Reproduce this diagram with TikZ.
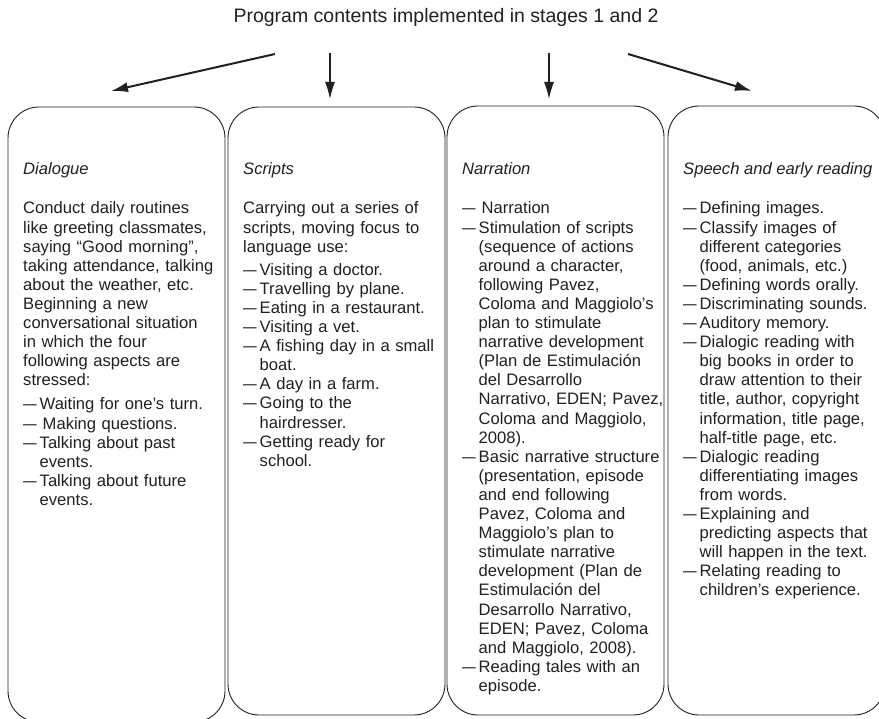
\documentclass[tikz,border=0pt]{standalone}
\usepackage{fontspec}
\setmainfont{Liberation Sans}
\usetikzlibrary{arrows.meta}
\definecolor{ink}{RGB}{35,31,32}
\newcommand{\itm}{\makebox[16.5pt][l]{\scalebox{0.82}[1]{—}}}
\newcommand{\cnt}{\hspace*{16.5pt}}
\begin{document}
\begin{tikzpicture}[x=1pt,y=-1pt,
  box/.style={draw=ink,line width=0.9pt,rounded corners=31pt,inner sep=0pt,minimum width=217pt},
  head/.style={anchor=base west,inner sep=0pt,font=\fontsize{16.6}{19.1}\selectfont\itshape,text=ink},
  body/.style={anchor=base west,inner sep=0pt,text width=215pt,align=left,font=\fontsize{16.6}{19.1}\selectfont,text=ink},
  arr/.style={draw=ink,-{Latex[length=17pt,width=10pt]}}]
\useasboundingbox (0,0) rectangle (879,719);

\node[inner sep=0pt,font=\fontsize{19.5}{22}\selectfont,text=ink] (title) at (446,17) {Program contents implemented in stages 1 and 2};

% boxes
\node[box,minimum height=615pt] (b1) at (116.5,414.5) {};
\node[box,minimum height=608pt] (b2) at (336.5,411) {};
\node[box,minimum height=609pt] (b3) at (555.5,410.5) {};
\node[box,minimum height=609pt] (b4) at (776.5,410.5) {};

% arrows
\coordinate (s1) at (275,54);  \coordinate (e1) at (111,91);
\coordinate (s2) at (330,53);  \coordinate (e2) at (330,99);
\coordinate (s3) at (549,53);  \coordinate (e3) at (549,99);
\coordinate (s4) at (628,54);  \coordinate (e4) at (752,91);
\draw[arr,line width=2pt] (s1) -- (e1);
\draw[arr,line width=1.3pt] (s2) -- (e2);
\draw[arr,line width=1.3pt] (s3) -- (e3);
\draw[arr,line width=2pt] (s4) -- (e4);

% box 1
\node[head] (h1) at (23,175) {Dialogue};
\node[body] (t1) at (23,214) {Conduct daily routines\\
like greeting classmates,\\
saying “Good morning”,\\
taking attendance, talking\\
about the weather, etc.\\
Beginning a new\\
conversational situation\\
in which the four\\
following aspects are\\
stressed:\\[5pt]
\itm Waiting for one’s turn.\\
\itm\hspace{3pt}Making questions.\\
\itm Talking about past\\
\cnt events.\\
\itm Talking about future\\
\cnt events.};

% box 2
\node[head] (h2) at (243,175) {Scripts};
\node[body] (t2) at (243,214) {Carrying out a series of\\
scripts, moving focus to\\
language use:\\[4pt]
\itm Visiting a doctor.\\
\itm Travelling by plane.\\
\itm Eating in a restaurant.\\
\itm Visiting a vet.\\
\itm A fishing day in a small\\
\cnt boat.\\
\itm A day in a farm.\\
\itm Going to the\\
\cnt hairdresser.\\
\itm Getting ready for\\
\cnt school.};

% box 3
\node[head] (h3) at (462,175) {Narration};
\node[body] (t3) at (462,214) {\itm\hspace{3pt}Narration\\
\itm Stimulation of scripts\\
\cnt (sequence of actions\\
\cnt around a character,\\
\cnt following Pavez,\\
\cnt Coloma and Maggiolo’s\\
\cnt plan to stimulate\\
\cnt narrative development\\
\cnt (Plan de Estimulación\\
\cnt del Desarrollo\\
\cnt Narrativo, EDEN; Pavez,\\
\cnt Coloma and Maggiolo,\\
\cnt 2008).\\
\itm Basic narrative structure\\
\cnt (presentation, episode\\
\cnt and end following\\
\cnt Pavez, Coloma and\\
\cnt Maggiolo’s plan to\\
\cnt stimulate narrative\\
\cnt development (Plan de\\
\cnt Estimulación del\\
\cnt Desarrollo Narrativo,\\
\cnt EDEN; Pavez, Coloma\\
\cnt and Maggiolo, 2008).\\
\itm Reading tales with an\\
\cnt episode.};

% box 4
\node[head] (h4) at (683,175) {Speech and early reading};
\node[body] (t4) at (683,214) {\itm Defining images.\\
\itm Classify images of\\
\cnt different categories\\
\cnt (food, animals, etc.)\\
\itm Defining words orally.\\
\itm Discriminating sounds.\\
\itm Auditory memory.\\
\itm Dialogic reading with\\
\cnt big books in order to\\
\cnt draw attention to their\\
\cnt title, author, copyright\\
\cnt information, title page,\\
\cnt half-title page, etc.\\
\itm Dialogic reading\\
\cnt differentiating images\\
\cnt from words.\\
\itm Explaining and\\
\cnt predicting aspects that\\
\cnt will happen in the text.\\
\itm Relating reading to\\
\cnt children’s experience.};
\end{tikzpicture}
\end{document}
